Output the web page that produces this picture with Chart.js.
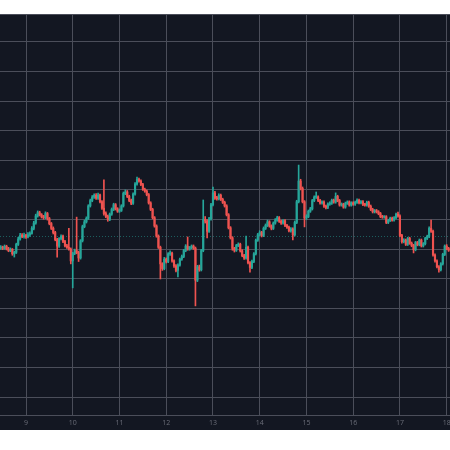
<!DOCTYPE html>
<html>
<head>
<meta charset="utf-8">
<script src="https://cdn.jsdelivr.net/npm/chart.js@4.4.1/dist/chart.umd.min.js"></script>
<style>
  html, body { margin: 0; padding: 0; background: #ffffff; }
  canvas { display: block; }
</style>
</head>
<body>
<canvas id="candles" width="450" height="450"></canvas>
<script>
// ============= Data (hourly candles) =============
const firstHour = 203; // day 8, 11:00
const dayTicks = [9, 10, 11, 12, 13, 14, 15, 16, 17, 18];
const priceTicks = [50, 60, 70, 80, 90, 100, 110, 120, 130, 140, 150, 160, 170];
const priceLine = 104.4;

const opens = [
  100.3, 100.7, 100.2, 100.9, 100.1, 99.5, 99.9, 98.4, 98.9, 101.6,
  103.4, 104.7, 104.2, 104.6, 104.1, 104.8, 105.3, 107.0, 108.8, 111.2,
  112.3, 111.6, 110.9, 110.6, 112.0, 110.3, 108.6, 107.0, 105.6, 103.2,
  101.0, 103.5, 104.3, 102.6, 101.1, 100.6, 100.0, 96.0, 98.5, 99.5,
  98.8, 97.0, 102.8, 107.6, 109.2, 110.4, 114.6, 116.4, 117.6, 118.2,
  117.2, 118.3, 116.0, 113.8, 112.0, 111.0, 110.0, 111.8, 113.4, 115.0,
  113.6, 112.8, 113.1, 114.6, 118.8, 119.3, 117.8, 116.4, 115.5, 118.6,
  122.0, 123.5, 123.0, 121.8, 120.2, 119.6, 118.4, 115.6, 113.4, 110.6,
  107.8, 104.4, 100.6, 95.0, 93.4, 96.6, 95.8, 98.4, 98.6, 96.0,
  94.3, 92.8, 94.6, 96.6, 97.5, 99.5, 101.0, 100.0, 100.5, 101.0,
  100.3, 89.5, 94.0, 93.0, 99.5, 110.0, 109.5, 106.0, 110.2, 115.0,
  119.0, 117.2, 117.0, 118.2, 116.8, 115.8, 114.6, 111.6, 107.2, 103.8,
  100.2, 99.6, 101.2, 101.6, 99.4, 97.8, 97.0, 100.6, 95.4, 93.8,
  95.8, 98.4, 103.0, 104.8, 105.6, 104.6, 107.0, 108.0, 109.2, 107.8,
  107.0, 108.8, 109.8, 110.6, 109.4, 108.8, 109.6, 108.0, 107.4, 106.2,
  106.8, 104.8, 109.0, 116.0, 123.0, 120.5, 116.0, 110.5, 111.0, 112.8,
  113.6, 116.4, 117.6, 117.6, 116.4, 115.6, 115.9, 114.5, 114.1, 115.2,
  115.5, 116.5, 115.9, 117.8, 116.4, 114.9, 115.1, 114.2, 115.5, 115.9,
  114.9, 115.6, 115.2, 115.8, 116.5, 115.7, 116.0, 115.1, 114.9, 115.8,
  114.5, 113.4, 112.6, 113.0, 112.6, 112.0, 111.0, 110.8, 110.9, 109.0,
  109.7, 110.4, 109.8, 110.6, 111.8, 111.2, 104.6, 102.5, 103.0, 101.6,
  103.6, 102.0, 101.2, 99.8, 102.2, 101.5, 103.0, 101.1, 101.8, 103.6,
  104.3, 107.0, 106.0, 98.0, 96.0, 94.0, 93.0, 95.0, 98.2, 101.0,
  100.2
];

const highs = [
  101.2, 101.0, 101.4, 101.3, 100.6, 100.4, 100.2, 99.3, 102.0, 104.0,
  105.3, 105.2, 105.4, 105.0, 105.6, 105.8, 107.6, 109.4, 111.8, 112.9,
  112.8, 112.0, 111.4, 112.6, 112.4, 110.7, 109.0, 107.5, 106.0, 103.6,
  103.9, 104.8, 104.7, 103.0, 101.6, 107.0, 100.4, 98.9, 100.0, 110.8,
  99.3, 103.2, 108.1, 109.8, 110.9, 115.0, 116.9, 118.1, 118.7, 118.8,
  118.9, 118.6, 116.4, 123.4, 112.6, 111.5, 112.2, 113.9, 115.5, 115.4,
  114.0, 113.6, 115.0, 119.3, 120.0, 119.8, 118.2, 116.9, 119.0, 122.5,
  124.3, 124.0, 123.4, 122.2, 120.6, 120.0, 118.8, 116.0, 113.8, 111.0,
  108.2, 104.8, 101.0, 95.4, 97.2, 97.0, 98.8, 99.4, 99.0, 96.4,
  94.8, 95.0, 97.0, 98.0, 99.9, 101.5, 104.1, 100.9, 101.4, 101.4,
  100.7, 94.5, 94.6, 99.9, 116.6, 111.0, 110.0, 110.7, 115.5, 121.0,
  119.5, 117.8, 118.7, 118.6, 117.2, 116.2, 115.0, 112.0, 107.6, 104.2,
  100.6, 101.6, 102.1, 102.0, 99.8, 98.2, 104.4, 101.0, 95.8, 96.3,
  98.8, 103.4, 105.3, 106.2, 106.0, 107.5, 108.5, 109.8, 109.6, 108.2,
  109.2, 110.3, 111.1, 111.0, 109.8, 110.0, 110.0, 108.4, 107.8, 107.3,
  107.2, 109.5, 116.5, 128.4, 123.6, 121.0, 116.4, 111.6, 113.2, 114.1,
  116.8, 118.0, 119.3, 118.0, 116.8, 116.3, 116.3, 114.9, 115.6, 116.0,
  116.9, 116.9, 119.0, 118.2, 116.8, 115.6, 115.5, 115.9, 116.3, 116.3,
  116.0, 116.0, 116.2, 117.0, 116.9, 116.4, 116.4, 115.5, 116.2, 116.2,
  114.9, 113.8, 113.4, 113.4, 113.0, 112.4, 111.4, 111.3, 111.3, 110.1,
  110.8, 110.8, 111.0, 112.2, 112.5, 111.6, 105.0, 103.5, 103.4, 104.0,
  104.0, 102.4, 101.6, 102.6, 102.6, 103.4, 103.4, 102.2, 104.0, 104.7,
  107.5, 109.8, 106.4, 98.4, 96.4, 94.4, 95.4, 98.6, 101.4, 101.5,
  100.6
];

const lows = [
  99.9, 99.8, 99.9, 99.7, 99.1, 99.1, 97.9, 97.3, 98.5, 101.2,
  103.0, 103.9, 103.7, 103.6, 103.8, 104.3, 105.0, 106.5, 108.4, 110.8,
  111.2, 110.5, 110.1, 110.2, 109.8, 108.2, 106.6, 105.1, 102.8, 97.3,
  100.6, 103.1, 102.2, 100.7, 100.2, 99.6, 95.0, 86.9, 98.1, 98.4,
  95.8, 96.6, 102.4, 107.2, 108.8, 110.0, 114.2, 116.0, 117.1, 116.8,
  116.8, 115.6, 113.4, 111.5, 110.6, 109.4, 109.6, 111.4, 113.0, 113.2,
  112.4, 112.4, 112.7, 114.2, 118.4, 117.4, 116.0, 115.0, 115.1, 118.2,
  121.6, 122.6, 121.4, 119.8, 119.2, 118.0, 115.2, 113.0, 110.2, 107.4,
  104.0, 100.2, 89.9, 92.8, 93.0, 95.3, 95.4, 97.9, 95.6, 93.8,
  92.3, 90.6, 94.2, 96.2, 97.1, 99.1, 99.6, 99.6, 100.1, 99.9,
  80.8, 89.0, 92.5, 92.6, 99.1, 108.8, 103.8, 105.6, 109.8, 114.6,
  116.8, 116.5, 116.6, 116.4, 115.4, 114.2, 111.2, 106.8, 103.4, 99.6,
  99.0, 99.2, 100.8, 99.0, 97.4, 96.5, 96.6, 95.0, 92.2, 93.4,
  95.4, 98.0, 102.6, 104.4, 104.1, 104.2, 106.6, 107.6, 107.4, 106.5,
  106.6, 108.4, 109.4, 109.0, 108.3, 108.4, 107.6, 107.0, 105.8, 105.7,
  103.1, 104.4, 108.6, 115.6, 120.0, 115.6, 107.5, 110.0, 110.6, 112.4,
  113.2, 116.0, 117.1, 116.0, 115.2, 115.2, 114.1, 113.6, 113.7, 114.8,
  115.1, 115.5, 115.5, 116.0, 114.5, 114.5, 113.8, 113.8, 115.1, 114.5,
  114.5, 114.8, 114.8, 115.4, 115.3, 115.3, 114.7, 114.5, 114.5, 114.1,
  113.0, 112.2, 112.2, 112.2, 111.6, 110.6, 110.4, 110.4, 108.6, 108.6,
  109.3, 109.4, 109.4, 110.2, 110.8, 104.2, 102.0, 102.1, 101.2, 101.2,
  101.6, 100.8, 98.7, 99.4, 101.1, 101.1, 100.7, 100.7, 101.4, 103.2,
  103.9, 105.6, 97.6, 95.6, 93.6, 92.2, 92.6, 94.6, 97.8, 99.8,
  99.2
];

const closes = [
  100.7, 100.2, 100.9, 100.1, 99.5, 99.9, 98.4, 98.9, 101.6, 103.4,
  104.7, 104.2, 104.6, 104.1, 104.8, 105.3, 107.0, 108.8, 111.2, 112.3,
  111.6, 110.9, 110.6, 112.0, 110.3, 108.6, 107.0, 105.6, 103.2, 101.0,
  103.5, 104.3, 102.6, 101.1, 100.6, 100.0, 96.0, 98.5, 99.5, 98.8,
  97.0, 102.8, 107.6, 109.2, 110.4, 114.6, 116.4, 117.6, 118.2, 117.2,
  118.3, 116.0, 113.8, 112.0, 111.0, 110.0, 111.8, 113.4, 115.0, 113.6,
  112.8, 113.1, 114.6, 118.8, 119.3, 117.8, 116.4, 115.5, 118.6, 122.0,
  123.5, 123.0, 121.8, 120.2, 119.6, 118.4, 115.6, 113.4, 110.6, 107.8,
  104.4, 100.6, 95.0, 93.4, 96.6, 95.8, 98.4, 98.6, 96.0, 94.3,
  92.8, 94.6, 96.6, 97.5, 99.5, 101.0, 100.0, 100.5, 101.0, 100.3,
  89.5, 94.0, 93.0, 99.5, 110.0, 109.5, 106.0, 110.2, 115.0, 119.0,
  117.2, 117.0, 118.2, 116.8, 115.8, 114.6, 111.6, 107.2, 103.8, 100.2,
  99.6, 101.2, 101.6, 99.4, 97.8, 97.0, 100.6, 95.4, 93.8, 95.8,
  98.4, 103.0, 104.8, 105.6, 104.6, 107.0, 108.0, 109.2, 107.8, 107.0,
  108.8, 109.8, 110.6, 109.4, 108.8, 109.6, 108.0, 107.4, 106.2, 106.8,
  104.8, 109.0, 116.0, 123.0, 120.5, 116.0, 110.5, 111.0, 112.8, 113.6,
  116.4, 117.6, 117.6, 116.4, 115.6, 115.9, 114.5, 114.1, 115.2, 115.5,
  116.5, 115.9, 117.8, 116.4, 114.9, 115.1, 114.2, 115.5, 115.9, 114.9,
  115.6, 115.2, 115.8, 116.5, 115.7, 116.0, 115.1, 114.9, 115.8, 114.5,
  113.4, 112.6, 113.0, 112.6, 112.0, 111.0, 110.8, 110.9, 109.0, 109.7,
  110.4, 109.8, 110.6, 111.8, 111.2, 104.6, 102.5, 103.0, 101.6, 103.6,
  102.0, 101.2, 99.8, 102.2, 101.5, 103.0, 101.1, 101.8, 103.6, 104.3,
  107.0, 106.0, 98.0, 96.0, 94.0, 93.0, 95.0, 98.2, 101.0, 100.2,
  99.6
];

// visible window (days / price)
const xMin = 8.4437, xMax = 18.0713;
const yMin = 43.92, yMax = 179.46;

// ============= Styles =============
const UP = "#26a69a";
const DOWN = "#ef5350";
const PANEL = "#131722";
const GRID = "#4b4e5a";

const times = opens.map((_, i) => (firstHour + i) / 24);
const colors = opens.map((o, i) => (closes[i] >= o ? UP : DOWN));

// background: white page, dark chart panel
const panelBg = {
  id: "panelBg",
  beforeDraw(chart) {
    const c = chart.ctx;
    c.save();
    c.fillStyle = "#ffffff";
    c.fillRect(0, 0, chart.width, chart.height);
    c.fillStyle = PANEL;
    c.fillRect(0, chart.chartArea.top, chart.width, 430 - chart.chartArea.top);
    c.restore();
  },
};

// dotted last-price line
const priceLinePlugin = {
  id: "priceLine",
  beforeDatasetsDraw(chart) {
    const { ctx: c, chartArea: a, scales } = chart;
    const y = Math.round(scales.y.getPixelForValue(priceLine)) + 0.5;
    c.save();
    c.strokeStyle = "rgba(38,166,154,0.5)";
    c.lineWidth = 1;
    c.setLineDash([1, 2]);
    c.beginPath();
    c.moveTo(a.left, y);
    c.lineTo(a.right, y);
    c.stroke();
    c.restore();
  },
};

new Chart(document.getElementById("candles"), {
  type: "bar",
  data: {
    datasets: [
      {
        label: "wick",
        data: times.map((t, i) => ({ x: t, y: [lows[i], highs[i]] })),
        backgroundColor: colors,
        barThickness: 1,
      },
      {
        label: "body",
        data: times.map((t, i) => ({ x: t, y: [opens[i], closes[i]] })),
        backgroundColor: colors,
        barThickness: 1.5,
        minBarLength: 1,
      },
    ],
  },
  options: {
    responsive: false,
    animation: false,
    layout: { padding: { top: 14, bottom: 20, left: 0, right: 0 } },
    datasets: { bar: { grouped: false, borderWidth: 0 } },
    plugins: { legend: { display: false }, tooltip: { enabled: false } },
    scales: {
      x: {
        type: "linear",
        min: xMin,
        max: xMax,
        offset: false,
        grid: { color: GRID, offset: false, drawTicks: false },
        border: { color: GRID },
        ticks: {
          color: "#6a6d78",
          font: { family: "Open Sans", size: 7 },
          padding: 4,
          maxRotation: 0,
          autoSkip: false,
        },
        afterBuildTicks: (s) => {
          s.ticks = dayTicks.map((v) => ({ value: v }));
        },
        afterFit: (s) => {
          s.height = 15;
          s.paddingLeft = 0;
          s.paddingRight = 0;
        },
      },
      y: {
        type: "linear",
        min: yMin,
        max: yMax,
        grid: { color: GRID, drawTicks: false },
        border: { display: false },
        ticks: { display: false },
        afterBuildTicks: (s) => {
          s.ticks = [yMin, ...priceTicks, yMax].map((v) => ({ value: v }));
        },
        afterFit: (s) => {
          s.width = 0;
        },
      },
    },
  },
  plugins: [panelBg, priceLinePlugin],
});
</script>
</body>
</html>
